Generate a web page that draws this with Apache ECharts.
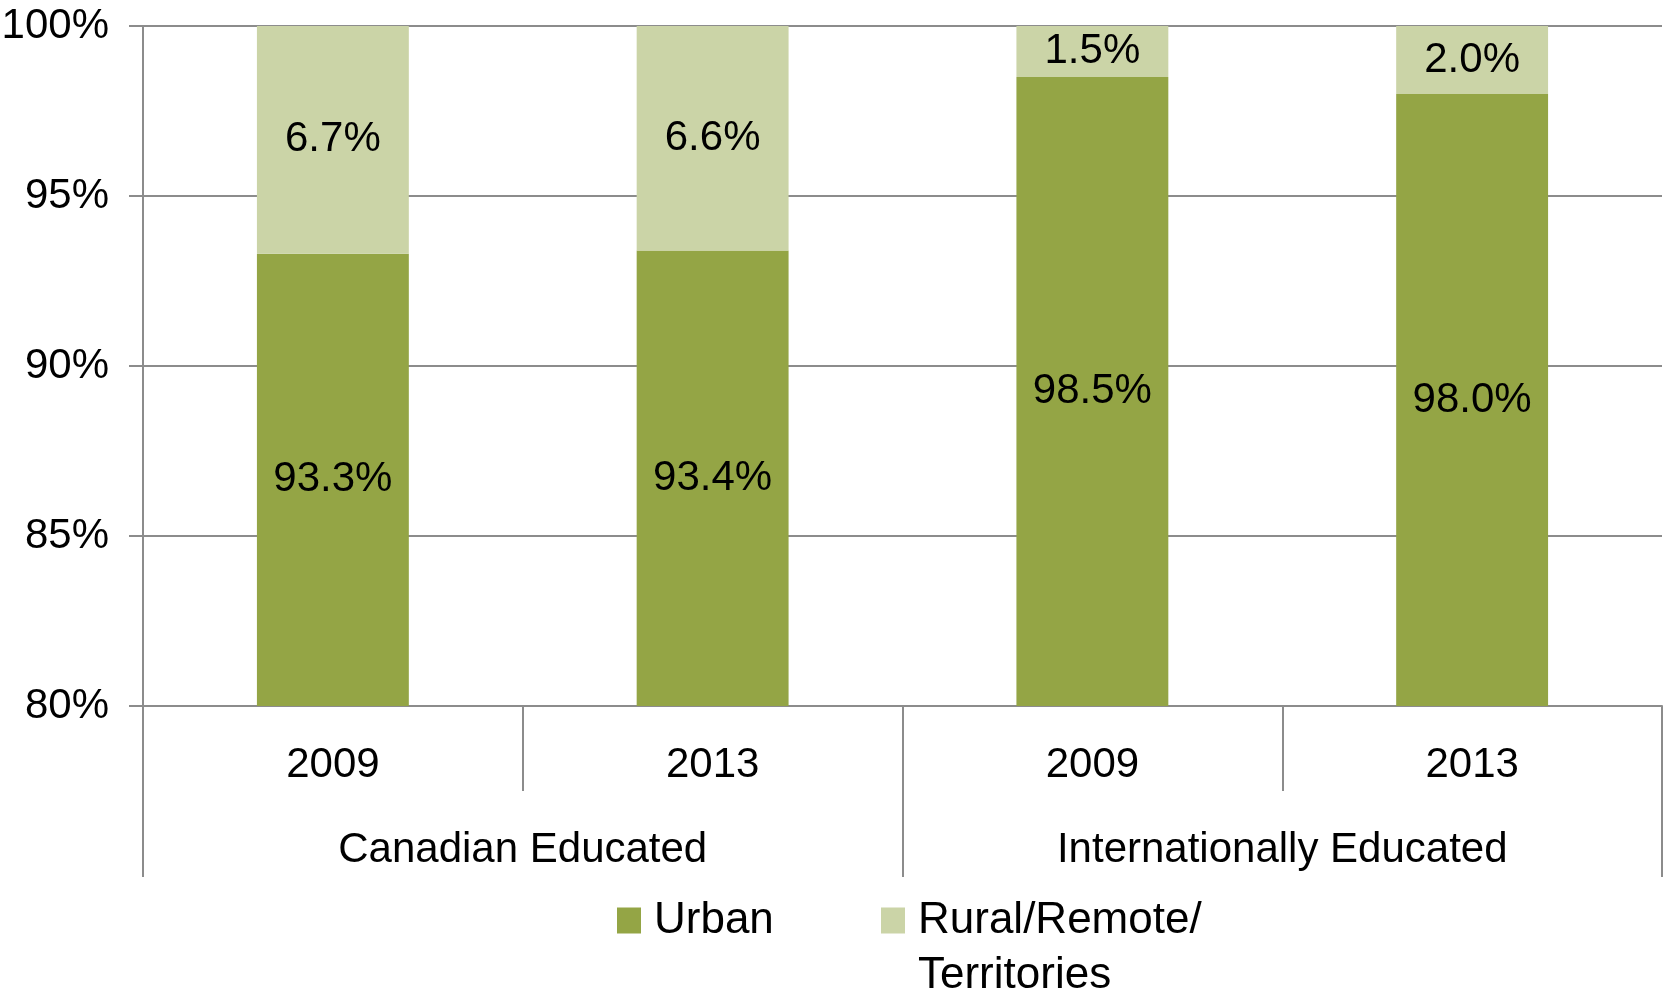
<!DOCTYPE html>
<html>
<head>
<meta charset="utf-8">
<script src="https://cdn.jsdelivr.net/npm/echarts@6/dist/echarts.min.js"></script>
<style>
  html, body { margin: 0; padding: 0; background: #fff; }
  #chart { width: 1664px; height: 994px; }
</style>
</head>
<body>
<div id="chart"></div>
<script>
// chart data
const years = ['2009', '2013', '2009', '2013'];
const groups = ['Canadian Educated', 'Internationally Educated'];
const urban = [93.3, 93.4, 98.5, 98.0];
const rural = [6.7, 6.6, 1.5, 2.0];

const font = "'Liberation Sans Narrow', 'Arial Narrow', 'Liberation Sans', Arial, sans-serif";
const fontSize = 42;
const lineColor = '#8c8c8c';

let chart = echarts.init(document.getElementById('chart'));

let labelStyle = {
  show: true,
  position: 'inside',
  color: '#000',
  fontFamily: font,
  fontSize: fontSize,
  formatter: (p) => p.value.toFixed(1) + '%'
};

// square on top, invisible sliver at the bottom so the two-line text hangs below the icon row
const tallIcon = 'path://M0,0H24V26H0Z M0,81H24V81.02H0Z';

let options = {
  animation: false,
  grid: { left: 143, right: 2, top: 26, bottom: 288, outerBoundsMode: 'none' },
  legend: [
    {
      data: ['Urban'],
      left: 617, top: 893,
      padding: 0,
      itemWidth: 24, itemHeight: 26,
      icon: 'rect',
      textStyle: { fontFamily: font, fontSize: fontSize + 2, lineHeight: 55, color: '#000', padding: [0, 0, 0, 8] }
    },
    {
      data: ['Rural/Remote/Territories'],
      left: 881, top: 893,
      padding: 0,
      itemWidth: 24, itemHeight: 81,
      icon: tallIcon,
      formatter: () => 'Rural/Remote/\nTerritories',
      textStyle: { fontFamily: font, fontSize: fontSize + 2, lineHeight: 55, color: '#000', padding: [0, 0, 0, 8] }
    }
  ],
  xAxis: [
    {
      type: 'category',
      position: 'bottom',
      data: years,
      axisLine: { show: true, lineStyle: { color: lineColor, width: 2 } },
      axisTick: { show: true, interval: 0, length: 85, lineStyle: { color: lineColor, width: 2 } },
      axisLabel: { interval: 0, margin: 38, color: '#000', fontFamily: font, fontSize: fontSize, lineHeight: 42 }
    },
    {
      type: 'category',
      position: 'bottom',
      data: groups,
      axisLine: { show: false },
      axisTick: { show: true, interval: 0, length: 171, lineStyle: { color: lineColor, width: 2 } },
      axisLabel: { interval: 0, margin: 123, color: '#000', fontFamily: font, fontSize: fontSize, lineHeight: 42 }
    }
  ],
  yAxis: {
    type: 'value',
    min: 80,
    max: 100,
    interval: 5,
    axisLine: { show: true, lineStyle: { color: lineColor, width: 2 } },
    axisTick: { show: true, length: 14, lineStyle: { color: lineColor, width: 2 } },
    splitLine: { show: true, lineStyle: { color: lineColor, width: 2 } },
    axisLabel: { margin: 34, color: '#000', fontFamily: font, fontSize: fontSize, formatter: '{value}%' }
  },
  series: [
    {
      name: 'Urban',
      type: 'bar',
      stack: 'total',
      barWidth: '40%',
      data: urban,
      itemStyle: { color: '#94a545' },
      label: labelStyle
    },
    {
      name: 'Rural/Remote/Territories',
      type: 'bar',
      stack: 'total',
      barWidth: '40%',
      data: rural,
      itemStyle: { color: '#cbd4a7' },
      label: labelStyle
    }
  ]
};

chart.setOption(options);
</script>
</body>
</html>
